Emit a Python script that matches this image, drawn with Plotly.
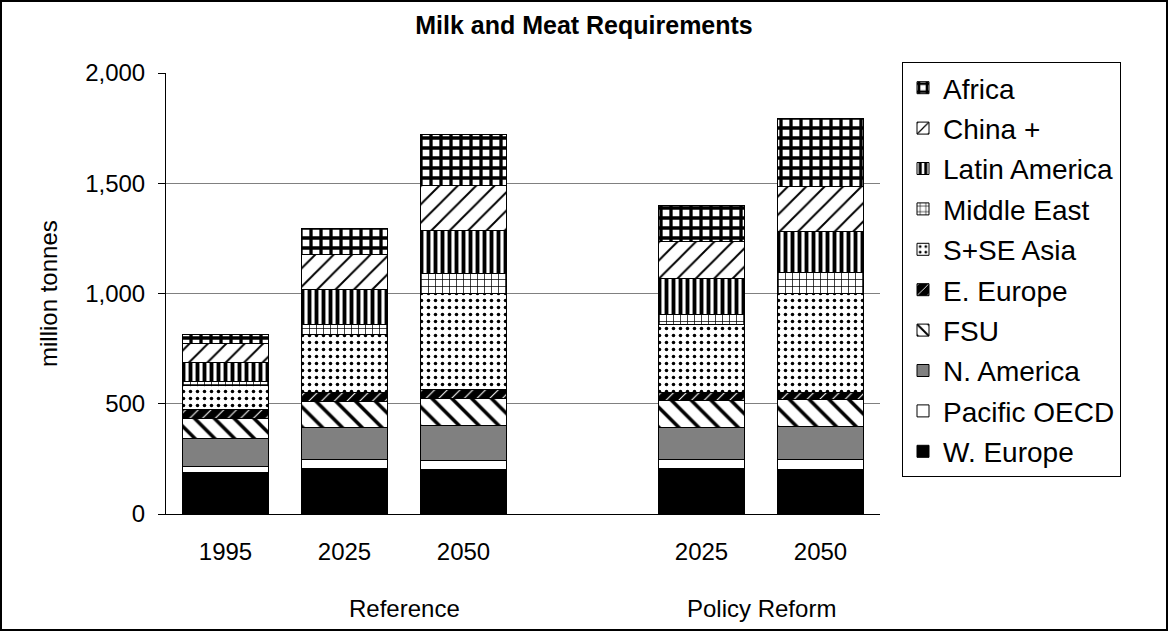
import plotly.graph_objects as go

# ---- data (million tonnes) ----
slots = [0, 1, 2, 4, 5]          # slot 3 stays empty between the two scenarios
years = ["1995", "2025", "2050", "2025", "2050"]
scenarios = ["Reference", "Policy Reform"]
scenario_slots = [(-0.5, 3.5), (3.5, 5.5)]

w_europe = [187, 207, 200, 207, 203]
pacific_oecd = [30, 38, 41, 38, 42]
n_america = [126, 148, 159, 148, 154]
fsu = [91, 116, 122, 124, 122]
e_europe = [42, 41, 41, 33, 30]
s_se_asia = [109, 265, 438, 310, 449]
middle_east = [15, 45, 91, 47, 93]
latin_america = [89, 156, 195, 159, 189]
china = [82, 159, 201, 172, 204]
africa = [41, 121, 234, 160, 308]

# ---- figure geometry ----
W, H = 1168, 631
ML, MR, MT, MB = 166, 288, 73, 117
PW, PH = W - ML - MR, H - MT - MB
FONT = "Arial, Liberation Sans, sans-serif"


def hatch(shape, size, solidity, fg="black", bg="white"):
    return dict(color=bg, pattern=dict(shape=shape, fgcolor=fg, bgcolor=bg,
                                       size=size, solidity=solidity, fillmode="replace"))


series = [
    ("W. Europe", w_europe, dict(color="black")),
    ("Pacific OECD", pacific_oecd, dict(color="white")),
    ("N. America", n_america, dict(color="#808080")),
    ("FSU", fsu, hatch("\\", 14, 0.25)),
    ("E. Europe", e_europe, hatch("/", 9, 0.12, fg="white", bg="black")),
    ("S+SE Asia", s_se_asia, hatch(".", 7, 0.2)),
    ("Middle East", middle_east, hatch("+", 7, 0.2)),
    ("Latin America", latin_america, hatch("|", 7, 0.55)),
    ("China +", china, hatch("/", 13, 0.15)),
    ("Africa", africa, hatch("+", 10, 0.55)),
]

fig = go.Figure()
n = len(series)
for i, (name, vals, marker) in enumerate(series):
    fig.add_trace(go.Bar(
        x=slots, y=vals, name=name, legendgroup=name, legendrank=n - i,
        width=0.715,
        marker=dict(line=dict(color="black", width=1), **marker),
    ))

# boundary tick marks between category slots
bounds = [s - 0.5 for s in range(7)]

fig.update_layout(
    width=W, height=H,
    margin=dict(l=ML, r=MR, t=MT, b=MB),
    paper_bgcolor="white", plot_bgcolor="white",
    barmode="stack",
    font=dict(family=FONT, color="black", size=24),
    title=dict(text="<b>Milk and Meat Requirements</b>", x=0.5, xanchor="center",
               y=1 - 25 / H, yanchor="middle", yref="container",
               font=dict(size=25, family=FONT, color="black")),
    xaxis=dict(range=[-0.5, 5.5], tickvals=slots, ticktext=years,
               ticks="outside", ticklen=16, tickcolor="rgba(0,0,0,0)",
               showgrid=False, zeroline=False, showline=True, linecolor="black", linewidth=1,
               tickfont=dict(size=24)),
    xaxis2=dict(range=[-0.5, 5.5], overlaying="x", anchor="y", side="bottom",
                tickvals=bounds, showticklabels=False, ticks="outside", ticklen=7,
                tickcolor="black", showgrid=False, zeroline=False, showline=False),
    yaxis=dict(range=[0, 2000], tickvals=[0, 500, 1000, 1500, 2000], tickformat=",",
               showgrid=True, gridcolor="#808080", gridwidth=1,
               zeroline=False, showline=True, linecolor="black", linewidth=1,
               ticks="outside", ticklen=7, tickcolor="black", ticklabelstandoff=8,
               tickfont=dict(size=24)),
    legend=dict(x=(902 - ML) / PW, xanchor="left", y=1 + (MT - 62) / PH, yanchor="top",
                bordercolor="black", borderwidth=1, bgcolor="white",
                traceorder="grouped", tracegroupgap=1, maxheight=600,
                font=dict(size=28, family=FONT, color="black")),
    showlegend=True,
)

# axis title
fig.add_annotation(text="million tonnes", textangle=-90, x=(33 - ML) / PW, y=0.5,
                   xref="paper", yref="paper", showarrow=False, font=dict(size=24))

# scenario group labels
for label, (a, b) in zip(scenarios, scenario_slots):
    fig.add_annotation(text=label, x=(a + b) / 2, xref="x", y=-(608 - MT - PH) / PH,
                       yref="paper", yanchor="middle", showarrow=False, font=dict(size=24))

# outer chart border
fig.add_shape(type="rect", xref="paper", yref="paper",
              x0=(-ML + 1) / PW, x1=(W - ML - 1) / PW,
              y0=(-MB + 1) / PH, y1=(H - MB - 1) / PH,
              line=dict(color="black", width=2), fillcolor="rgba(0,0,0,0)", layer="above")

fig.write_html("out.html")
